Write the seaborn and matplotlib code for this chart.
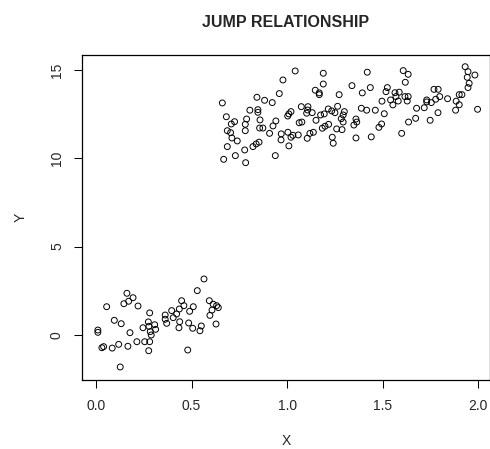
import numpy as np
import pandas as pd
import seaborn as sns
import matplotlib.pyplot as plt

# ── Data ─────────────────────────────────────────────────────────────────────
# lower group: x < 0.65
x_low = [0.162, 0.194, 0.171, 0.146, 0.220, 0.056, 0.281, 0.096, 0.132, 0.010,
         0.010, 0.178, 0.274, 0.246, 0.277, 0.307, 0.312, 0.284, 0.289, 0.214,
         0.255, 0.281, 0.119, 0.167, 0.040, 0.031, 0.085, 0.276, 0.127, 0.362,
         0.362, 0.370,
         0.565, 0.530, 0.448, 0.460, 0.436, 0.509, 0.490, 0.396, 0.422, 0.404,
         0.438, 0.434, 0.485, 0.506, 0.551, 0.544, 0.593, 0.613, 0.631, 0.640,
         0.607, 0.596, 0.628, 0.480]
y_low = [2.36, 2.11, 1.91, 1.77, 1.64, 1.60, 1.25, 0.83, 0.64, 0.28,
         0.15, 0.13, 0.74, 0.41, 0.49, 0.58, 0.32, 0.19, 0.00, -0.38,
         -0.38, -0.38, -0.53, -0.64, -0.66, -0.72, -0.74, -0.89, -1.81, 1.13,
         0.89, 0.66,
         3.17, 2.51, 1.94, 1.66, 1.47, 1.60, 1.34, 1.38, 1.19, 0.98,
         0.75, 0.41, 0.68, 0.38, 0.51, 0.24, 1.94, 1.74, 1.66, 1.55,
         1.41, 1.11, 0.62, -0.85]

# upper group: x >= 0.65
x_high = [1.042, 0.978, 0.959, 0.842, 0.882, 0.922, 0.661, 0.847, 0.847, 0.805,
          1.020, 1.009, 1.003, 1.074, 0.682, 0.788, 0.858, 0.725, 0.708, 0.781,
          0.941, 0.926, 1.063, 1.077, 0.856, 0.873, 0.781, 0.687, 0.704, 0.908,
          0.969, 1.004, 1.030, 1.020, 1.058, 0.711, 0.739, 0.968, 0.853, 0.838,
          0.821, 0.687, 1.009, 0.778, 0.729, 0.668, 0.783, 0.938,
          1.189, 1.419, 1.189, 1.339, 1.435, 1.393, 1.147, 1.168, 1.168, 1.272,
          1.524, 1.517, 1.496, 1.541, 1.553, 1.109, 1.107, 1.215, 1.264, 1.388,
          1.416, 1.461, 1.508, 1.102, 1.131, 1.175, 1.194, 1.233, 1.250, 1.299,
          1.293, 1.283, 1.293, 1.360, 1.364, 1.349, 1.151, 1.217, 1.198, 1.184,
          1.259, 1.287, 1.494, 1.480, 1.137, 1.119, 1.105, 1.236, 1.241, 1.360,
          1.440,
          1.607, 1.633, 1.931, 1.946, 1.982, 1.942, 1.952, 1.946, 1.618, 1.768,
          1.790, 1.564, 1.586, 1.569, 1.616, 1.633, 1.798, 1.777, 1.839, 1.900,
          1.914, 1.581, 1.628, 1.730, 1.730, 1.754, 1.884, 1.900, 1.677, 1.717,
          1.881, 1.996, 1.789, 1.672, 1.635, 1.748, 1.599]
y_high = [14.94, 14.43, 13.66, 13.45, 13.28, 13.15, 13.13, 12.75, 12.60, 12.72,
          12.64, 12.51, 12.39, 12.92, 12.35, 12.22, 12.17, 12.07, 11.94, 11.92,
          12.11, 11.83, 12.01, 12.05, 11.71, 11.71, 11.56, 11.56, 11.45, 11.41,
          11.38, 11.47, 11.30, 11.19, 11.32, 11.15, 10.98, 11.04, 10.91, 10.81,
          10.66, 10.66, 10.70, 10.47, 10.15, 9.94, 9.75, 10.15,
          14.81, 14.87, 14.20, 14.11, 14.00, 13.70, 13.85, 13.70, 13.60, 13.60,
          14.00, 13.77, 13.23, 13.30, 13.02, 12.92, 12.73, 12.79, 12.94, 12.83,
          12.72, 12.72, 12.52, 12.55, 12.58, 12.45, 12.51, 12.68, 12.58, 12.64,
          12.45, 12.24, 12.05, 12.22, 12.05, 11.88, 12.15, 11.92, 11.81, 11.70,
          11.66, 11.62, 11.94, 11.75, 11.47, 11.41, 11.13, 11.19, 10.85, 11.15,
          11.21,
          14.96, 14.75, 15.18, 14.90, 14.71, 14.58, 14.24, 14.00, 14.30, 13.90,
          13.90, 13.71, 13.74, 13.49, 13.49, 13.49, 13.49, 13.34, 13.37, 13.60,
          13.60, 13.24, 13.24, 13.30, 13.19, 13.15, 13.23, 13.03, 12.83, 12.86,
          12.72, 12.77, 12.58, 12.26, 12.05, 12.15, 11.41]

x_ticks = [0.0, 0.5, 1.0, 1.5, 2.0]
x_tick_labels = ["0.0", "0.5", "1.0", "1.5", "2.0"]
y_ticks = [0, 5, 10, 15]
y_tick_labels = ["0", "5", "10", "15"]

df = pd.DataFrame({"X": x_low + x_high, "Y": y_low + y_high})

# ── Plot ─────────────────────────────────────────────────────────────────────
sns.set_style("ticks")
plt.rcParams["font.family"] = ["Liberation Sans", "DejaVu Sans"]

fig = plt.figure(figsize=(4.9, 4.49), dpi=100)
ax = fig.add_axes([82 / 490, (449 - 379.7) / 449, 1 - 82 / 490, (379.7 - 54.7) / 449])

sns.scatterplot(data=df, x="X", y="Y", marker="o", s=18, linewidth=0.7, ax=ax)
pts = ax.collections[0]
pts.set_facecolor("none")
pts.set_edgecolor("black")

ax.set_xlim(-0.073, 2.061)
ax.set_ylim(-2.53, 15.86)
ax.set_xticks(x_ticks, x_tick_labels)
ax.set_yticks(y_ticks, y_tick_labels)
ax.tick_params(axis="both", length=6, width=0.75, color="black", labelsize=10)
ax.tick_params(axis="x", pad=8)
ax.tick_params(axis="y", pad=7, labelrotation=90)
for lab in ax.get_yticklabels():
    lab.set_va("center")

for sp in ax.spines.values():
    sp.set_visible(True)
    sp.set_linewidth(0.9)
    sp.set_color("black")

ax.set_xlabel("X", fontsize=10, labelpad=15)
ax.set_ylabel("Y", fontsize=10, labelpad=16)
ax.set_title("JUMP RELATIONSHIP", fontsize=11.5, fontweight="bold", pad=20)

fig.savefig("out.png", dpi=100)
plt.close(fig)
